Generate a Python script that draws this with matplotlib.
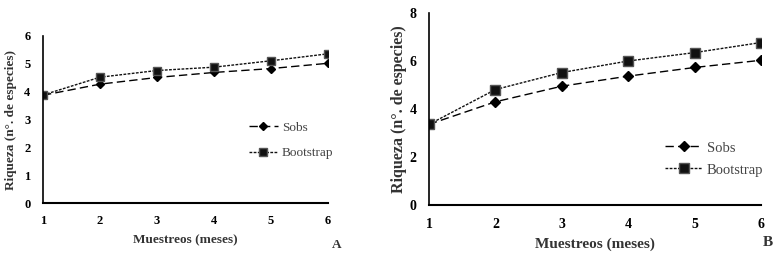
import numpy as np
import matplotlib.pyplot as plt

plt.rcParams['font.family'] = ['Liberation Serif', 'DejaVu Serif']

# Datos
muestreos = [1, 2, 3, 4, 5, 6]
sobs_a = [3.87, 4.27, 4.51, 4.69, 4.83, 5.02]
boot_a = [3.88, 4.52, 4.76, 4.88, 5.11, 5.36]
sobs_b = [3.36, 4.30, 4.95, 5.37, 5.73, 6.03]
boot_b = [3.36, 4.81, 5.52, 6.00, 6.35, 6.77]

fig = plt.figure(figsize=(7.82, 2.58), dpi=100)
ax1 = fig.add_axes([43/782, 55/258, 285/782, 167/258])
ax2 = fig.add_axes([429/782, 53/258, 332/782, 192/258])

def panel(ax, sobs, boot, ymax, ystep, fs, ms, letra, lx, ly, leg_loc,
          lab_fs, ylab_fs, ylpad, hl, lsp):
  ax.plot(muestreos, sobs, color='black', lw=1.0, dashes=(6, 3),
          marker='D', ms=ms*0.8, label='Sobs')
  ax.plot(muestreos, boot, color='#111111', lw=1.0, dashes=(2, 1),
          marker='s', ms=ms, mec='#555555', label='Bootstrap')
  ax.set_xlim(1, 6)
  ax.set_ylim(0, ymax)
  ax.set_xticks(muestreos)
  ax.set_yticks(np.arange(0, ymax + 1, ystep))
  for s in ['top', 'right']:
    ax.spines[s].set_visible(False)
  ax.spines['left'].set_linewidth(1.2)
  ax.spines['bottom'].set_linewidth(1.5)
  ax.tick_params(axis='x', length=0, labelsize=fs, pad=9)
  ax.tick_params(axis='y', length=0, labelsize=fs, pad=9)
  for t in ax.get_xticklabels() + ax.get_yticklabels():
    t.set_fontweight('bold')
  ax.set_xlabel('Muestreos (meses)', fontsize=lab_fs, fontweight='bold',
                color='#333333', labelpad=5)
  ax.set_ylabel('Riqueza (n°. de especies)', fontsize=ylab_fs, fontweight='bold',
                color='#333333', labelpad=ylpad)
  ax.legend(loc='center left', bbox_to_anchor=leg_loc, frameon=False,
            fontsize=fs + 0.5, handlelength=hl, handletextpad=0.3,
            labelcolor='#444444', labelspacing=lsp)
  fig.text(lx, ly, letra, fontsize=lab_fs, fontweight='bold', color='#333333',
           ha='center', va='center')

panel(ax1, sobs_a, boot_a, 6, 1, 9, 5.5, 'A', 337/782, 1 - 245/258,
      (0.68, 0.374), 9.5, 9.5, 5, 2.2, 1.0)
panel(ax2, sobs_b, boot_b, 8, 2, 10, 7, 'B', 768/782, 1 - 243/258,
      (0.67, 0.24), 11, 11.5, 2, 2.6, 0.6)

fig.savefig('out.png', dpi=100)
